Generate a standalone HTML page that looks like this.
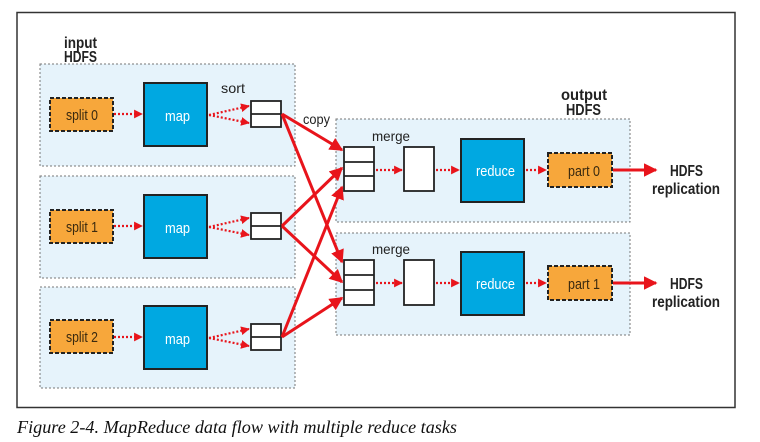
<!DOCTYPE html>
<html><head><meta charset="utf-8"><style>
html,body{margin:0;padding:0;background:#fff;}
svg{display:block;}
.s{font-family:"Liberation Sans",sans-serif;}
</style></head><body>
<svg width="760" height="442" viewBox="0 0 760 442" xmlns="http://www.w3.org/2000/svg">
<defs>
<marker id="a" markerWidth="4" markerHeight="4" refX="3.6" refY="2" orient="auto" markerUnits="strokeWidth"><path d="M0,0 L4,2 L0,4 z" fill="#e8141b"/></marker>
<marker id="b" markerWidth="4.5" markerHeight="4.5" refX="4" refY="2.25" orient="auto" markerUnits="strokeWidth"><path d="M0,0 L4.5,2.25 L0,4.5 z" fill="#e8141b"/></marker>
</defs>
<rect x="17" y="12.5" width="718" height="395" fill="#fff" stroke="#333" stroke-width="1.5"/>
<g fill="#e6f3fb" stroke="#777" stroke-width="1" stroke-dasharray="2,2">
<rect x="40" y="64" width="255" height="102"/>
<rect x="40" y="176" width="255" height="102"/>
<rect x="40" y="287" width="255" height="101"/>
<rect x="336" y="119" width="294" height="103"/>
<rect x="336" y="233" width="294" height="102"/>
</g>
<g class="s" font-weight="bold" font-size="16" fill="#222" lengthAdjust="spacingAndGlyphs">
<text x="64" y="48" textLength="33" lengthAdjust="spacingAndGlyphs">input</text><text x="64" y="62" textLength="33" lengthAdjust="spacingAndGlyphs">HDFS</text>
<text x="561" y="100" textLength="46" lengthAdjust="spacingAndGlyphs">output</text><text x="566" y="115" textLength="35" lengthAdjust="spacingAndGlyphs">HDFS</text>
</g>
<g class="s" font-size="14" fill="#222">
<text x="221" y="93" textLength="24" lengthAdjust="spacingAndGlyphs">sort</text>
<text x="303" y="124" textLength="27" lengthAdjust="spacingAndGlyphs">copy</text>
<text x="372" y="141" textLength="38" lengthAdjust="spacingAndGlyphs">merge</text>
<text x="372" y="254" textLength="38" lengthAdjust="spacingAndGlyphs">merge</text>
</g>
<g fill="#f7a73b" stroke="#222" stroke-width="2" stroke-dasharray="4,2">
<rect x="50" y="98" width="63" height="33"/>
<rect x="50" y="210" width="63" height="33"/>
<rect x="50" y="320" width="63" height="33"/>
<rect x="548" y="153" width="64" height="34"/>
<rect x="548" y="266" width="64" height="34"/>
</g>
<g fill="#00a8e1" stroke="#222" stroke-width="2">
<rect x="144" y="83" width="63" height="63"/>
<rect x="144" y="195" width="63" height="63"/>
<rect x="144" y="306" width="63" height="63"/>
<rect x="461" y="139" width="63" height="63"/>
<rect x="461" y="252" width="63" height="63"/>
</g>
<g fill="#fff" stroke="#222" stroke-width="1.8">
<rect x="251" y="101" width="30" height="26"/><line x1="251" y1="114" x2="281" y2="114"/>
<rect x="251" y="213" width="30" height="26"/><line x1="251" y1="226" x2="281" y2="226"/>
<rect x="251" y="324" width="30" height="26"/><line x1="251" y1="337" x2="281" y2="337"/>
<rect x="344" y="147" width="30" height="44"/><line x1="344" y1="162" x2="374" y2="162"/><line x1="344" y1="176" x2="374" y2="176"/>
<rect x="344" y="260" width="30" height="45"/><line x1="344" y1="275" x2="374" y2="275"/><line x1="344" y1="290" x2="374" y2="290"/>
<rect x="404" y="147" width="30" height="44"/>
<rect x="404" y="260" width="30" height="45"/>
</g>
<g class="s" font-size="15" fill="#3a2a10">
<text x="66" y="120" textLength="32" lengthAdjust="spacingAndGlyphs">split 0</text>
<text x="66" y="232" textLength="32" lengthAdjust="spacingAndGlyphs">split 1</text>
<text x="66" y="342" textLength="32" lengthAdjust="spacingAndGlyphs">split 2</text>
<text x="568" y="176" textLength="32" lengthAdjust="spacingAndGlyphs">part 0</text>
<text x="568" y="289" textLength="32" lengthAdjust="spacingAndGlyphs">part 1</text>
</g>
<g class="s" font-size="15" fill="#fff">
<text x="165" y="121" textLength="25" lengthAdjust="spacingAndGlyphs">map</text>
<text x="165" y="233" textLength="25" lengthAdjust="spacingAndGlyphs">map</text>
<text x="165" y="344" textLength="25" lengthAdjust="spacingAndGlyphs">map</text>
<text x="476" y="176" textLength="39" lengthAdjust="spacingAndGlyphs">reduce</text>
<text x="476" y="289" textLength="39" lengthAdjust="spacingAndGlyphs">reduce</text>
</g>
<g stroke="#e8141b" stroke-width="2.2" stroke-dasharray="2,2" fill="none" marker-end="url(#a)">
<line x1="114" y1="114" x2="142" y2="114"/>
<line x1="114" y1="226" x2="142" y2="226"/>
<line x1="114" y1="337" x2="142" y2="337"/>
<line x1="209" y1="115" x2="249" y2="106"/><line x1="209" y1="115" x2="249" y2="123"/>
<line x1="209" y1="227" x2="249" y2="218"/><line x1="209" y1="227" x2="249" y2="235"/>
<line x1="209" y1="338" x2="249" y2="329"/><line x1="209" y1="338" x2="249" y2="346"/>
<line x1="376" y1="170" x2="402" y2="170"/><line x1="436" y1="170" x2="459" y2="170"/><line x1="526" y1="170" x2="546" y2="170"/>
<line x1="376" y1="283" x2="402" y2="283"/><line x1="436" y1="283" x2="459" y2="283"/><line x1="526" y1="283" x2="546" y2="283"/>
</g>
<g stroke="#e8141b" stroke-width="3" fill="none" marker-end="url(#b)">
<line x1="282" y1="114" x2="342" y2="150"/>
<line x1="282" y1="114" x2="342" y2="262"/>
<line x1="282" y1="226" x2="342" y2="168"/>
<line x1="282" y1="226" x2="342" y2="282"/>
<line x1="282" y1="337" x2="342" y2="187"/>
<line x1="282" y1="337" x2="342" y2="298"/>
<line x1="613" y1="170" x2="656" y2="170"/>
<line x1="613" y1="283" x2="656" y2="283"/>
</g>
<g class="s" font-weight="bold" font-size="16" fill="#222">
<text x="670" y="176" textLength="33" lengthAdjust="spacingAndGlyphs">HDFS</text>
<text x="652" y="194" textLength="68" lengthAdjust="spacingAndGlyphs">replication</text>
<text x="670" y="289" textLength="33" lengthAdjust="spacingAndGlyphs">HDFS</text>
<text x="652" y="307" textLength="68" lengthAdjust="spacingAndGlyphs">replication</text>
</g>
<text x="17" y="433" style="font-family:'Liberation Serif',serif;font-style:italic;font-size:18px" fill="#111" textLength="440" lengthAdjust="spacingAndGlyphs">Figure 2-4. MapReduce data flow with multiple reduce tasks</text>
</svg>
</body></html>
